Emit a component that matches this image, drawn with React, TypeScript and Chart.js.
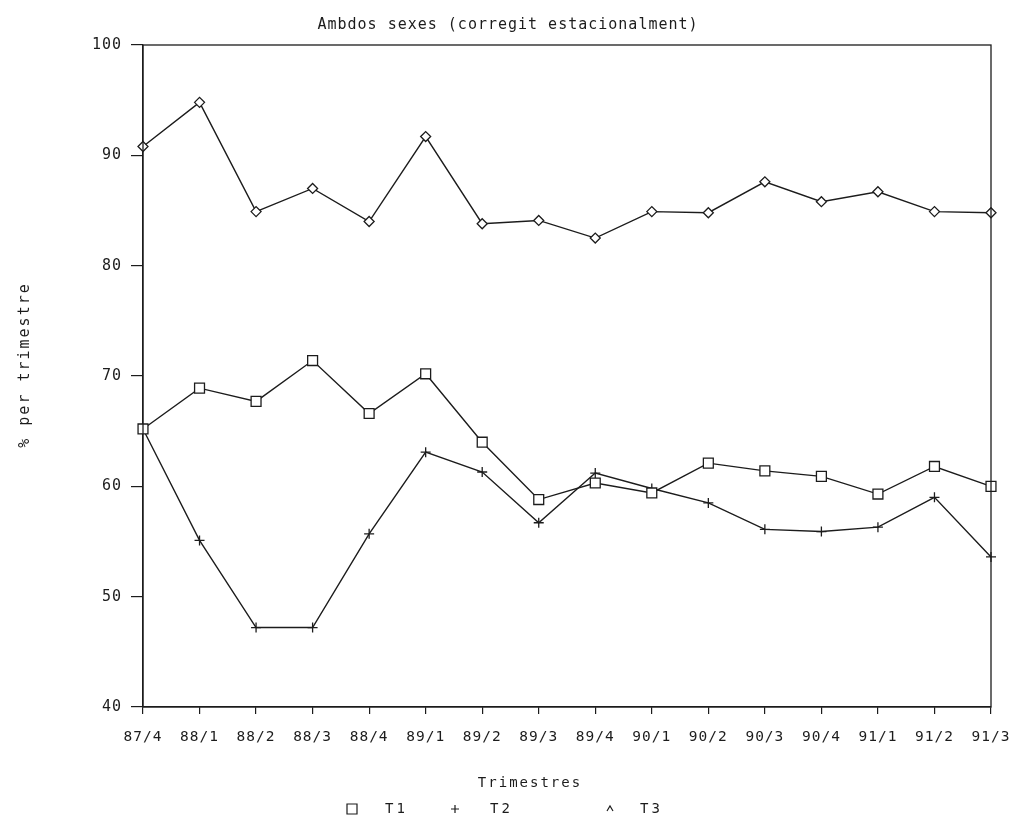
import React, { useEffect, useRef } from "react";
import { Chart, registerables } from "chart.js";

Chart.register(...registerables);

const categories = ["87/4", "88/1", "88/2", "88/3", "88/4", "89/1", "89/2", "89/3", "89/4", "90/1", "90/2", "90/3", "90/4", "91/1", "91/2", "91/3"];
const yTickValues = [40, 50, 60, 70, 80, 90, 100];
const seriesT1 = [65.2, 68.9, 67.7, 71.4, 66.6, 70.2, 64.0, 58.8, 60.3, 59.4, 62.1, 61.4, 60.9, 59.3, 61.8, 60.0];
const seriesT2 = [65.2, 55.1, 47.2, 47.2, 55.7, 63.1, 61.3, 56.7, 61.2, 59.8, 58.5, 56.1, 55.9, 56.3, 59.0, 53.6];
const seriesT3 = [90.8, 94.8, 84.9, 87.0, 84.0, 91.7, 83.8, 84.1, 82.5, 84.9, 84.8, 87.6, 85.8, 86.7, 84.9, 84.8];
const seriesNames = ["T1", "T2", "T3"];
const titleText = "Ambdos sexes (corregit estacionalment)";
const xTitleText = "Trimestres";
const yTitleText = "% per trimestre";

const FONT = "'DejaVu Sans Mono', 'Liberation Mono', monospace";
const INK = "#1c1c1c";
const W = 1002;
const H = 810;

const drawMarker = (ctx: CanvasRenderingContext2D, kind: string, x: number, y: number) => {
  ctx.beginPath();
  if (kind === "rect") {
    ctx.rect(x - 5, y - 5, 10, 10);
  } else if (kind === "cross") {
    ctx.moveTo(x - 4, y);
    ctx.lineTo(x + 4, y);
    ctx.moveTo(x, y - 4);
    ctx.lineTo(x, y + 4);
  } else {
    ctx.moveTo(x - 3, y + 2);
    ctx.lineTo(x, y - 3);
    ctx.lineTo(x + 3, y + 2);
  }
  ctx.stroke();
};

const legendLayout = [
  { marker: "rect", mx: 344, tx: 377 },
  { marker: "cross", mx: 447, tx: 482 },
  { marker: "caret", mx: 602, tx: 632 },
];

const extrasPlugin = {
  id: "extras",
  beforeDraw(chart: any) {
    chart.ctx.letterSpacing = "1px";
  },
  afterDraw(chart: any) {
    const { ctx, chartArea: a } = chart;
    ctx.save();
    ctx.strokeStyle = INK;
    ctx.lineWidth = 1.3;
    ctx.strokeRect(a.left, a.top, a.right - a.left, a.bottom - a.top);
    ctx.fillStyle = INK;
    ctx.textAlign = "center";
    ctx.textBaseline = "middle";
    // title
    ctx.font = `15px ${FONT}`;
    ctx.letterSpacing = "1px";
    ctx.fillText(titleText, 500, 17);
    // y title
    ctx.save();
    ctx.translate(17, 357);
    ctx.rotate(-Math.PI / 2);
    ctx.font = `15px ${FONT}`;
    ctx.letterSpacing = "2px";
    ctx.fillText(yTitleText, 0, 0);
    ctx.restore();
    // x title
    ctx.font = `14px ${FONT}`;
    ctx.letterSpacing = "2px";
    ctx.fillText(xTitleText, 522, 775);
    // legend
    ctx.textAlign = "left";
    ctx.letterSpacing = "3px";
    ctx.lineWidth = 1.2;
    legendLayout.forEach((item, i) => {
      drawMarker(ctx, item.marker, item.mx, 801);
      ctx.fillText(seriesNames[i], item.tx, 801);
    });
    ctx.restore();
  },
};

export default function App() {
  const ref = useRef<HTMLCanvasElement | null>(null);

  useEffect(() => {
    if (!ref.current) return;
    const common = {
      borderColor: INK,
      borderWidth: 1.4,
      pointBorderColor: INK,
      pointBackgroundColor: "#ffffff",
      pointBorderWidth: 1.3,
      tension: 0,
      fill: false,
    };
    const chart = new Chart(ref.current, {
      type: "line",
      data: {
        labels: categories,
        datasets: [
          { ...common, label: seriesNames[0], data: seriesT1, pointStyle: "rect", pointRadius: 7 },
          { ...common, label: seriesNames[1], data: seriesT2, pointStyle: "cross", pointRadius: 5 },
          { ...common, label: seriesNames[2], data: seriesT3, pointStyle: "rectRot", pointRadius: 5 },
        ],
      },
      options: {
        responsive: false,
        animation: false,
        events: [],
        layout: { padding: { left: 0, right: 19, top: 37, bottom: 0 } },
        plugins: {
          legend: { display: false },
          tooltip: { enabled: false },
          title: { display: false },
        },
        scales: {
          x: {
            type: "category",
            offset: false,
            afterFit: (s: any) => {
              s.height = 111;
              s.paddingLeft = 0;
              s.paddingRight = 0;
            },
            grid: { display: true, drawOnChartArea: false, drawTicks: true, tickLength: 7, color: INK, lineWidth: 1.2 },
            border: { display: true, color: INK, width: 1.3 },
            ticks: {
              color: INK,
              font: { family: FONT, size: 14.5 },
              padding: 15,
              maxRotation: 0,
              autoSkip: false,
            },
          },
          y: {
            min: 40,
            max: 100,
            afterFit: (s: any) => {
              s.width = 135;
              s.paddingTop = 0;
              s.paddingBottom = 0;
            },
            afterBuildTicks: (s: any) => {
              s.ticks = yTickValues.map((v) => ({ value: v }));
            },
            grid: { display: true, drawOnChartArea: false, drawTicks: true, tickLength: 12, color: INK, lineWidth: 1.2 },
            border: { display: true, color: INK, width: 1.3 },
            ticks: {
              color: INK,
              font: { family: FONT, size: 15 },
              padding: 9,
            },
          },
        },
      },
      plugins: [extrasPlugin],
    });
    return () => chart.destroy();
  }, []);

  return <canvas ref={ref} width={W} height={H} style={{ display: "block", width: W, height: H }} />;
}
